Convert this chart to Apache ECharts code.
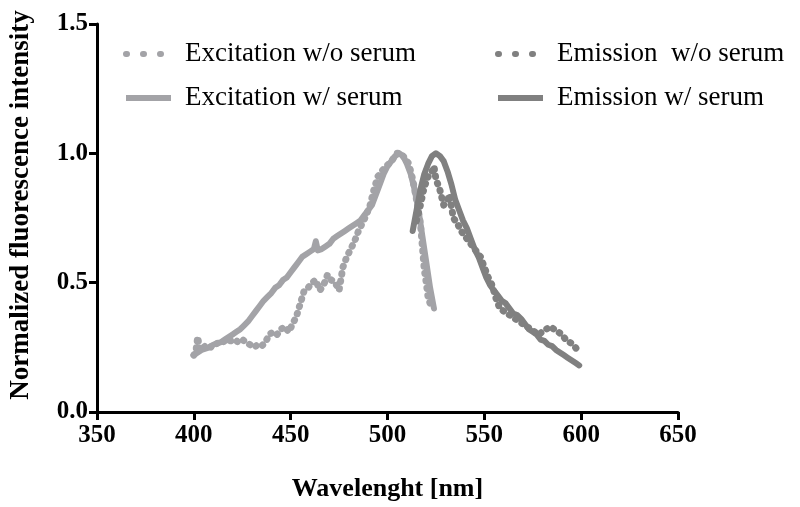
<!DOCTYPE html>
<html>
<head>
<meta charset="utf-8">
<script src="https://cdn.jsdelivr.net/npm/echarts@6/dist/echarts.min.js"></script>
<style>
html,body{margin:0;padding:0;background:#fff;}
#c{width:800px;height:507px;}
</style>
</head>
<body>
<div id="c"></div>
<script>
// ---- data (wavelength nm, normalized intensity) ----
var seriesNames = ['Excitation w/o serum', 'Excitation w/ serum', 'Emission  w/o serum', 'Emission w/ serum'];

var excitationWithoutSerum = [
  [400,0.22],[401,0.23],[402,0.29],[403,0.24],[405,0.25],[407,0.26],[409,0.25],[411,0.26],[413,0.27],[415,0.27],
  [417,0.28],[419,0.275],[421,0.28],[423,0.27],[425,0.28],[427,0.27],[429,0.26],[431,0.25],[433,0.26],[435,0.255],
  [437,0.27],[439,0.30],[441,0.31],[443,0.30],[445,0.32],[447,0.33],[449,0.31],[451,0.34],[453,0.37],[455,0.42],
  [457,0.47],[459,0.48],[461,0.50],[463,0.51],[465,0.47],[467,0.49],[469,0.53],[471,0.51],[473,0.50],[475,0.47],
  [477,0.56],[479,0.60],[481,0.63],[483,0.66],[485,0.70],[487,0.73],[489,0.76],[491,0.80],[493,0.86],[495,0.91],
  [497,0.93],[499,0.95],[501,0.96],[503,0.98],[505,1.0],[507,1.0],[509,0.98],[511,0.96],[513,0.90],[515,0.82],
  [517,0.73],[518,0.64],[519,0.55],[520,0.50],[521,0.44],[522,0.42],[523,0.40]
];

var excitationWithSerum = [
  [400,0.22],[402,0.23],[404,0.24],[406,0.245],[408,0.25],[410,0.26],[412,0.265],[414,0.27],[416,0.28],[418,0.29],
  [420,0.30],[422,0.31],[424,0.32],[426,0.335],[428,0.35],[430,0.37],[432,0.39],[434,0.41],[436,0.43],[438,0.445],
  [440,0.46],[442,0.48],[444,0.49],[446,0.51],[448,0.52],[450,0.54],[452,0.56],[454,0.58],[456,0.60],[458,0.61],
  [460,0.62],[462,0.63],[463,0.66],[464,0.625],[466,0.63],[468,0.64],[470,0.65],[472,0.67],[474,0.68],[476,0.69],
  [478,0.70],[480,0.71],[482,0.72],[484,0.73],[486,0.74],[488,0.76],[490,0.78],[492,0.80],[494,0.84],[496,0.88],
  [498,0.92],[500,0.95],[502,0.97],[504,0.99],[506,1.0],[508,0.99],[510,0.96],[512,0.92],[514,0.86],[516,0.78],
  [518,0.68],[520,0.58],[522,0.48],[524,0.40]
];

var emissionWithoutSerum = [
  [515,0.74],[517,0.80],[519,0.87],[521,0.91],[523,0.93],[524,0.95],[525,0.90],[527,0.86],[529,0.80],[531,0.82],
  [532,0.84],[534,0.75],[536,0.73],[538,0.70],[540,0.68],[542,0.66],[544,0.64],[546,0.62],[548,0.60],[550,0.56],
  [552,0.52],[554,0.49],[556,0.44],[558,0.40],[560,0.39],[562,0.38],[564,0.37],[566,0.36],[568,0.35],[570,0.34],
  [572,0.33],[574,0.32],[576,0.31],[578,0.30],[580,0.31],[582,0.32],[584,0.33],[586,0.32],[588,0.31],[590,0.30],
  [592,0.28],[594,0.27],[596,0.26],[598,0.24],[599,0.23]
];

var emissionWithSerum = [
  [513,0.70],[515,0.78],[517,0.86],[519,0.92],[521,0.96],[523,0.99],[525,1.0],[527,0.99],[529,0.97],[531,0.93],
  [533,0.88],[535,0.82],[537,0.78],[539,0.74],[541,0.71],[543,0.67],[545,0.63],[547,0.60],[549,0.56],[551,0.52],
  [553,0.49],[555,0.47],[557,0.45],[559,0.43],[561,0.42],[563,0.40],[565,0.38],[567,0.375],[569,0.36],[571,0.34],
  [573,0.32],[575,0.31],[577,0.30],[579,0.28],[581,0.275],[583,0.26],[585,0.255],[587,0.24],[589,0.23],[591,0.22],
  [593,0.21],[595,0.20],[597,0.19],[599,0.18]
];

var xTicks = [350, 400, 450, 500, 550, 600, 650];
var yTicks = [0.0, 0.5, 1.0, 1.5];

// ---- chart ----
var lightGray = '#a3a3a7';
var darkGray = '#808080';
var dotPattern = [0.5, 7];
var serif = '"Liberation Serif", "DejaVu Serif", serif';

var chart = echarts.init(document.getElementById('c'), null, {renderer: 'canvas'});

function lineSeries(name, data, color, dotted) {
  return {
    name: name,
    type: 'line',
    data: data,
    symbol: 'none',
    smooth: false,
    animation: false,
    lineStyle: {
      color: color,
      width: dotted ? 7 : 6,
      type: dotted ? dotPattern : 'solid',
      cap: 'round',
      join: 'round'
    },
    itemStyle: {color: color}
  };
}

var legendText = {fontFamily: serif, fontSize: 27, color: '#000', padding: [0, 0, 0, 9], lineHeight: 30};
var legendDot = {type: [1, 16], width: 6, cap: 'round'};
var legendSolid = {type: 'solid', width: 6, cap: 'butt'};
var hiddenSymbol = {opacity: 0};

chart.setOption({
  backgroundColor: '#fff',
  animation: false,
  grid: {left: 96, right: 122, top: 24, bottom: 95, containLabel: false},
  legend: [
    {
      data: [
        {name: seriesNames[0], lineStyle: legendDot, itemStyle: hiddenSymbol},
        {name: seriesNames[1], lineStyle: legendSolid, itemStyle: hiddenSymbol}
      ],
      orient: 'vertical', left: 118, top: 34, itemWidth: 45, itemHeight: 8, itemGap: 14,
      textStyle: legendText, selectedMode: false
    },
    {
      data: [
        {name: seriesNames[2], lineStyle: legendDot, itemStyle: hiddenSymbol},
        {name: seriesNames[3], lineStyle: legendSolid, itemStyle: hiddenSymbol}
      ],
      orient: 'vertical', left: 490, top: 34, itemWidth: 45, itemHeight: 8, itemGap: 14,
      textStyle: legendText, selectedMode: false
    }
  ],
  xAxis: {
    type: 'value',
    min: xTicks[0], max: xTicks[xTicks.length - 1], interval: 50,
    name: 'Wavelenght [nm]', nameLocation: 'middle', nameGap: 64,
    nameTextStyle: {fontFamily: serif, fontSize: 26, fontWeight: 'bold', color: '#000'},
    axisLine: {show: true, onZero: false, lineStyle: {color: '#000', width: 3}},
    axisTick: {show: true, inside: false, length: 8, lineStyle: {color: '#000', width: 3}},
    axisLabel: {fontFamily: serif, fontSize: 25, fontWeight: 'bold', color: '#000', margin: 11},
    splitLine: {show: false}
  },
  yAxis: {
    type: 'value',
    min: yTicks[0], max: yTicks[yTicks.length - 1], interval: 0.5,
    name: 'Normalized fluorescence intensity', nameLocation: 'middle', nameGap: 62,
    nameTextStyle: {fontFamily: serif, fontSize: 27, fontWeight: 'bold', color: '#000', padding: [0, 0, 0, 26]},
    axisLine: {show: true, onZero: false, lineStyle: {color: '#000', width: 3}},
    axisTick: {show: true, inside: false, length: 8, lineStyle: {color: '#000', width: 3}},
    axisLabel: {fontFamily: serif, fontSize: 25, fontWeight: 'bold', color: '#000', margin: 9,
      formatter: function (v) { return v.toFixed(1); }},
    splitLine: {show: false}
  },
  series: [
    lineSeries(seriesNames[0], excitationWithoutSerum, lightGray, true),
    lineSeries(seriesNames[1], excitationWithSerum, lightGray, false),
    lineSeries(seriesNames[2], emissionWithoutSerum, darkGray, true),
    lineSeries(seriesNames[3], emissionWithSerum, darkGray, false)
  ]
});
</script>
</body>
</html>
